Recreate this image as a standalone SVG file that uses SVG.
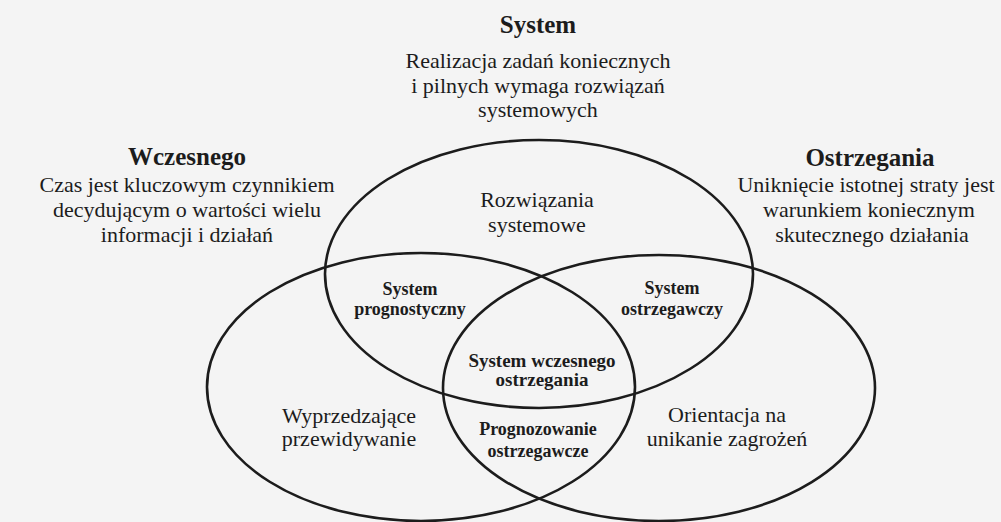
<svg xmlns="http://www.w3.org/2000/svg" width="1001" height="522" viewBox="0 0 1001 522">
<style>
  .bg { fill: #f4f4f4; }
  .ring { fill: none; stroke: #1c1c1c; stroke-width: 2.6; }
  text { font-family: "Liberation Serif", "Times New Roman", serif; fill: #1c1c1c; text-anchor: middle; }
  .head { font-size: 25px; font-weight: bold; }
  .desc { font-size: 22px; }
  .lab { font-size: 18px; font-weight: bold; }
  .labc { font-size: 19px; font-weight: bold; }
</style>
<rect class="bg" x="0" y="0" width="1001" height="522"/>
<g id="connectors"></g>
<g id="node-system">
  <ellipse class="ring" cx="539" cy="274" rx="214" ry="134"/>
  <text class="head" x="538" y="33">System</text>
  <text class="desc" x="538" y="68">Realizacja zadań koniecznych</text>
  <text class="desc" x="538" y="93">i pilnych wymaga rozwiązań</text>
  <text class="desc" x="538" y="117">systemowych</text>
  <text class="desc" x="537" y="207">Rozwiązania</text>
  <text class="desc" x="537" y="232">systemowe</text>
</g>
<g id="node-wczesnego">
  <ellipse class="ring" cx="421" cy="387" rx="214" ry="134"/>
  <text class="head" x="187" y="165">Wczesnego</text>
  <text class="desc" x="187" y="192">Czas jest kluczowym czynnikiem</text>
  <text class="desc" x="187" y="217">decydującym o wartości wielu</text>
  <text class="desc" x="187" y="242">informacji i działań</text>
  <text class="desc" x="349" y="423">Wyprzedzające</text>
  <text class="desc" x="349" y="446">przewidywanie</text>
</g>
<g id="node-ostrzegania">
  <ellipse class="ring" cx="659" cy="388" rx="216" ry="133"/>
  <text class="head" x="870" y="166">Ostrzegania</text>
  <text class="desc" x="866" y="192">Uniknięcie istotnej straty jest</text>
  <text class="desc" x="869" y="217">warunkiem koniecznym</text>
  <text class="desc" x="872" y="242">skutecznego działania</text>
  <text class="desc" x="727" y="422">Orientacja na</text>
  <text class="desc" x="727" y="446">unikanie zagrożeń</text>
</g>
<g id="node-prognostyczny">
  <text class="lab" x="410" y="295">System</text>
  <text class="lab" x="410" y="315">prognostyczny</text>
</g>
<g id="node-ostrzegawczy">
  <text class="lab" x="672" y="294">System</text>
  <text class="lab" x="672" y="315">ostrzegawczy</text>
</g>
<g id="node-wczesnego-ostrzegania">
  <text class="labc" x="542" y="367">System wczesnego</text>
  <text class="labc" x="542" y="386">ostrzegania</text>
</g>
<g id="node-prognozowanie">
  <text class="lab" x="538" y="435">Prognozowanie</text>
  <text class="lab" x="538" y="457">ostrzegawcze</text>
</g>
</svg>
